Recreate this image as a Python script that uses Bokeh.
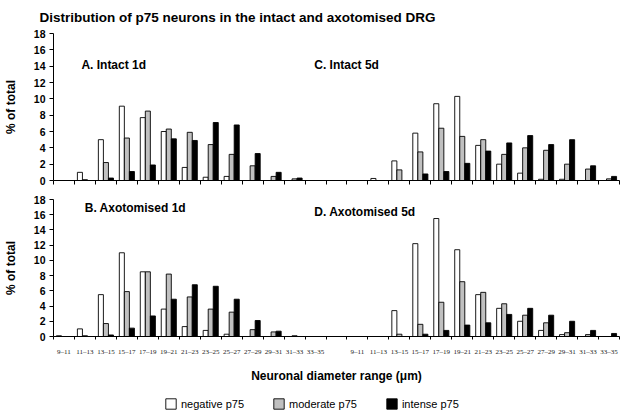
from bokeh.plotting import figure
from bokeh.models import ColumnDataSource, FixedTicker, Label, Legend, LegendItem, Range1d
from bokeh.layouts import column
from bokeh.transform import dodge
from bokeh.embed import file_html
from bokeh.resources import INLINE

# ---------------- data ----------------
size_ranges = ["9–11", "11–13", "13–15", "15–17", "17–19", "19–21", "21–23",
               "23–25", "25–27", "27–29", "29–31", "31–33", "33–35"]

intact_1d_negative = [0, 1.0, 5.0, 9.1, 7.7, 6.0, 1.6, 0.4, 0.5, 0, 0, 0, 0]
intact_1d_moderate = [0, 0.1, 2.2, 5.2, 8.5, 6.3, 5.9, 4.4, 3.2, 1.8, 0.5, 0.2, 0]
intact_1d_intense = [0, 0, 0.3, 1.1, 1.9, 5.1, 4.9, 7.1, 6.8, 3.3, 1.0, 0.3, 0]

intact_5d_negative = [0, 0.25, 2.4, 5.8, 9.4, 10.3, 4.3, 2.0, 0.9, 0.15, 0.15, 0, 0]
intact_5d_moderate = [0, 0, 1.3, 3.5, 6.4, 5.4, 5.0, 3.2, 4.0, 3.7, 2.0, 1.4, 0.2]
intact_5d_intense = [0, 0, 0, 0.8, 1.1, 2.1, 3.6, 4.6, 5.5, 4.4, 5.0, 1.8, 0.5]

axo_1d_negative = [0.1, 1.0, 5.5, 11.0, 8.5, 3.6, 1.3, 0.8, 0.3, 0, 0, 0, 0]
axo_1d_moderate = [0, 0.1, 1.7, 5.9, 8.5, 8.2, 5.2, 3.6, 3.2, 0.9, 0.6, 0.1, 0]
axo_1d_intense = [0, 0, 0.2, 1.1, 2.7, 4.9, 6.8, 6.6, 4.9, 2.1, 0.7, 0, 0]

axo_5d_negative = [0, 0, 3.4, 12.2, 15.5, 11.4, 5.5, 3.7, 2.0, 0.8, 0.25, 0, 0]
axo_5d_moderate = [0, 0, 0.3, 1.6, 4.5, 7.2, 5.8, 4.3, 2.8, 1.8, 0.5, 0.25, 0]
axo_5d_intense = [0, 0, 0, 0.3, 0.8, 1.5, 1.8, 2.9, 3.7, 2.8, 2.0, 0.8, 0.4]

y_ticks = [0, 2, 4, 6, 8, 10, 12, 14, 16, 18]

TITLE = "Distribution of p75 neurons in the intact and axotomised DRG"
series_names = ["negative p75", "moderate p75", "intense p75"]
series_colors = ["white", "#c0c0c0", "black"]

# ---------------- layout helpers ----------------
FONT = "Liberation Sans"
N = len(size_ranges)
slots_1d = list(range(N))
slots_5d = [N + 1 + i for i in range(N)]
slots = slots_1d + slots_5d
n_slots = slots[-1] + 1
boundaries = [k - 0.5 for k in range(n_slots + 1)]


def make_fig(height, top, bottom):
    p = figure(width=624, height=height,
               x_range=Range1d(-0.5, n_slots - 0.5), y_range=Range1d(0, 18),
               output_backend="svg", toolbar_location=None,
               min_border_left=52, min_border_right=5,
               min_border_top=top, min_border_bottom=bottom)
    p.xgrid.visible = False
    p.ygrid.visible = False
    p.outline_line_color = None
    p.background_fill_color = "white"
    p.border_fill_color = "white"
    ya = p.yaxis[0]
    ya.ticker = FixedTicker(ticks=y_ticks, minor_ticks=[])
    ya.major_tick_out = 4
    ya.major_tick_in = 0
    ya.minor_tick_out = 0
    ya.minor_tick_in = 0
    ya.major_label_standoff = 4
    ya.major_label_text_font = FONT
    ya.major_label_text_font_style = "bold"
    ya.major_label_text_font_size = "10.5px"
    ya.major_label_text_color = "black"
    ya.axis_line_color = "black"
    ya.major_tick_line_color = "black"
    ya.axis_label = "% of total"
    ya.axis_label_text_font = FONT
    ya.axis_label_text_font_style = "bold"
    ya.axis_label_text_font_size = "12px"
    ya.axis_label_text_color = "black"
    ya.axis_label_standoff = 13
    xa = p.xaxis[0]
    xa.axis_line_color = "black"
    xa.major_tick_in = 0
    xa.minor_tick_in = 0
    xa.minor_tick_line_color = "black"
    return p


def add_bars(p, neg_1d, mod_1d, int_1d, neg_5d, mod_5d, int_5d):
    src = ColumnDataSource(dict(
        slot=slots,
        negative=neg_1d + neg_5d,
        moderate=mod_1d + mod_5d,
        intense=int_1d + int_5d,
    ))
    for col, off, color in zip(["negative", "moderate", "intense"], [-0.24, 0.0, 0.24], series_colors):
        p.vbar(x=dodge("slot", off, range=p.x_range), top=col, width=0.24, bottom=0,
               source=src, fill_color=color, line_color="black", line_width=0.9)


def text_label(p, text, x, y, size="12px"):
    p.add_layout(Label(x=x, y=y, text=text, text_font=FONT, text_font_style="bold",
                       text_font_size=size, text_color="black",
                       text_align="left", text_baseline="middle"))


# ---------------- top row ----------------
p1 = make_fig(187, 33, 7)
p1.title.text = TITLE
p1.title.text_font = FONT
p1.title.text_font_style = "bold"
p1.title.text_font_size = "13.5px"
p1.title.text_color = "black"
p1.title.align = "left"
p1.title.vertical_align = "top"
p1.title.offset = -14
p1.title.standoff = 14
xa1 = p1.xaxis[0]
xa1.ticker = FixedTicker(ticks=[], minor_ticks=boundaries)
xa1.major_tick_out = 0
xa1.minor_tick_out = 4
xa1.major_label_standoff = 0
add_bars(p1, intact_1d_negative, intact_1d_moderate, intact_1d_intense,
         intact_5d_negative, intact_5d_moderate, intact_5d_intense)
text_label(p1, "A. Intact 1d", 0.83, 14.1)
text_label(p1, "C. Intact 5d", 11.94, 14.1)

# ---------------- bottom row ----------------
p2 = make_fig(198, 12, 42)
xa2 = p2.xaxis[0]
xa2.ticker = FixedTicker(ticks=slots, minor_ticks=boundaries)
xa2.major_label_overrides = {s: lab for s, lab in zip(slots, size_ranges + size_ranges)}
xa2.major_tick_out = 0
xa2.minor_tick_out = 3
xa2.major_label_standoff = 8
xa2.major_label_text_font = "Liberation Serif"
xa2.major_label_text_font_size = "7px"
xa2.major_label_text_color = "#222222"
xa2.axis_label = "Neuronal diameter range (μm)"
xa2.axis_label_text_font = FONT
xa2.axis_label_text_font_style = "bold"
xa2.axis_label_text_font_size = "12px"
xa2.axis_label_text_color = "black"
xa2.axis_label_standoff = 10
add_bars(p2, axo_1d_negative, axo_1d_moderate, axo_1d_intense,
         axo_5d_negative, axo_5d_moderate, axo_5d_intense)
text_label(p2, "B. Axotomised 1d", 0.99, 16.9)
text_label(p2, "D.  Axotomised 5d", 11.94, 16.4)

# ---------------- legend strip ----------------
p3 = figure(width=624, height=30, x_range=Range1d(0, 1), y_range=Range1d(0, 1),
            x_axis_type=None, y_axis_type=None, output_backend="svg",
            toolbar_location=None, min_border=0)
p3.outline_line_color = None
p3.xgrid.visible = False
p3.ygrid.visible = False
# zero-size placeholder glyphs: only their legend swatches are visible
swatches = [p3.vbar(x=[0.5], top=[0.5], bottom=[0.5], width=0, fill_color=c,
                    line_color="black", line_width=0.9)
            for c in series_colors]
legend = Legend(items=[LegendItem(label=n, renderers=[r]) for n, r in zip(series_names, swatches)],
                orientation="horizontal", location=(111, 5),
                glyph_width=13, glyph_height=13, label_standoff=4, spacing=28,
                padding=0, margin=0, border_line_color=None, background_fill_alpha=0,
                label_text_font=FONT, label_text_font_size="11px", label_text_color="black",
                label_height=13, label_text_baseline="middle")
p3.add_layout(legend, "center")

layout = column(p1, p2, p3, spacing=0)
open("out.html", "w").write(file_html(layout, INLINE))
